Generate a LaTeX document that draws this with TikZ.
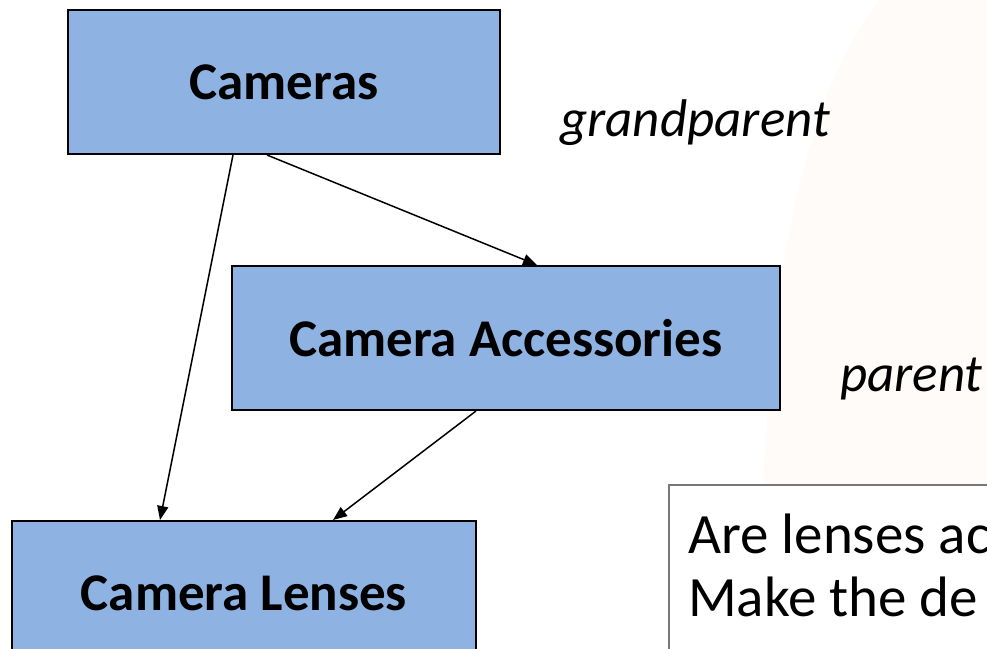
\documentclass[tikz,border=0pt]{standalone}
\usepackage{fontspec}
\setmainfont{Carlito}
\usetikzlibrary{arrows.meta}
\definecolor{boxblue}{RGB}{142,178,226}
\definecolor{tint}{RGB}{254,251,249}
\definecolor{qgray}{RGB}{120,120,120}
\begin{document}
\begin{tikzpicture}[x=1pt,y=-1pt,
  catbox/.style={draw=black,line width=2pt,fill=boxblue,minimum height=144pt,inner sep=0pt,font=\fontsize{53}{60}\selectfont\bfseries},
  role/.style={font=\fontsize{53}{60}\selectfont\itshape,inner sep=0pt,anchor=base west},
  qline/.style={font=\fontsize{57}{63}\selectfont,anchor=base west,inner sep=0pt},
  link/.style={line width=1.5pt,-{Triangle[length=14pt,width=11pt]}}]
\useasboundingbox (0,0) rectangle (987,648);
\clip (0,0) rectangle (987,648);
\fill[white] (0,0) rectangle (987,648);
\fill[tint] (760,648) .. controls (760,300) and (800,100) .. (880,0) -- (987,0) -- (987,648) -- cycle;
\node[catbox,minimum width=432pt] (cam) at (284,82) {Cameras};
\node[catbox,minimum width=548pt] (acc) at (506,338) {Camera Accessories};
\node[catbox,minimum width=464pt] (len) at (244,593) {Camera Lenses};
\node[role] (gp) at (560,136) {grandparent};
\node[role] (par) at (840,391) {parent};
\node[draw=qgray,line width=1.5pt,fill=white,minimum width=360pt,minimum height=200pt,anchor=north west,inner sep=0pt] (q) at (668,484) {};
\node[qline] (q1) at (688,553) {Are lenses ac};
\node[qline] (q2) at (688,616) {Make the de};
\draw[link] ([xshift=-51pt]cam.south) -- ([xshift=-84pt]len.north);
\draw[link] ([xshift=-17pt]cam.south) -- ([xshift=31pt]acc.north);
\draw[link] ([xshift=-30pt]acc.south) -- ([xshift=89pt]len.north);
\end{tikzpicture}
\end{document}
